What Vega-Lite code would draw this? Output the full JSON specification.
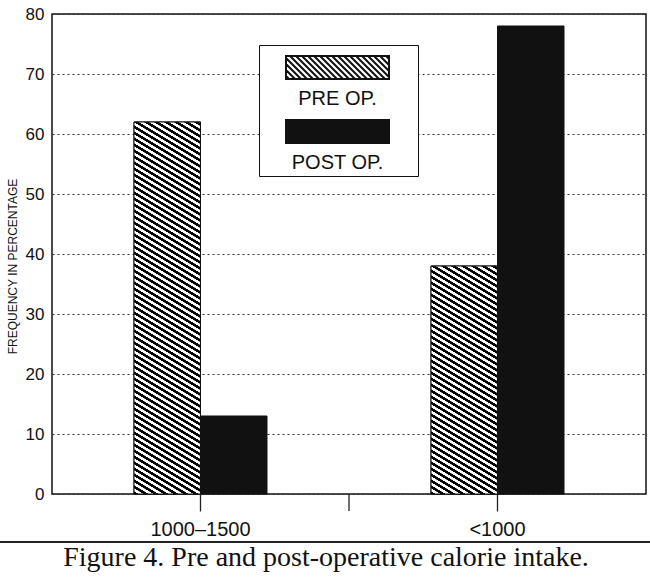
{
  "$schema": "https://vega.github.io/schema/vega-lite/v6.json",
  "autosize": "none",
  "width": 594,
  "height": 480,
  "padding": {"left": 52, "top": 14, "right": 4, "bottom": 86},
  "background": "white",
  "config": {
    "font": "Liberation Sans",
    "view": {"stroke": "#111", "strokeWidth": 1.5},
    "axisX": {
      "labelAngle": 0,
      "labelFontSize": 20,
      "labelColor": "#111",
      "labelPadding": 8,
      "tickSize": 17,
      "tickColor": "#222",
      "tickWidth": 1.3,
      "domain": false,
      "grid": false
    },
    "axisY": {
      "tickCount": 8,
      "titleFontSize": 12,
      "titleFontWeight": "normal",
      "titleColor": "#111",
      "titlePadding": 6,
      "titleY": 252,
      "labelFontSize": 17,
      "labelColor": "#111",
      "labelPadding": 8,
      "ticks": false,
      "domain": false,
      "grid": true,
      "gridDash": [2, 3],
      "gridColor": "#333",
      "gridWidth": 1.2
    }
  },
  "title": {
    "text": "Figure 4. Pre and post-operative calorie intake.",
    "orient": "bottom",
    "anchor": "middle",
    "baseline": "alphabetic",
    "font": "Liberation Serif",
    "fontSize": 28,
    "fontWeight": "normal",
    "color": "#111",
    "dx": -23,
    "offset": 23
  },
  "data": {
    "values": [
      {"cat": "1000–1500", "group": "PRE OP.", "value": 62},
      {"cat": "1000–1500", "group": "POST OP.", "value": 13},
      {"cat": "<1000", "group": "PRE OP.", "value": 38},
      {"cat": "<1000", "group": "POST OP.", "value": 78}
    ]
  },
  "layer": [
    {
      "mark": {"type": "bar", "stroke": "#111"},
      "encoding": {
        "x": {
          "field": "cat",
          "type": "nominal",
          "title": null,
          "scale": {"domain": ["1000–1500", "<1000"], "paddingInner": 0.1044, "paddingOuter": 0.0522}
        },
        "y": {
          "field": "value",
          "type": "quantitative",
          "title": "FREQUENCY IN PERCENTAGE",
          "scale": {"domain": [0, 80], "nice": false}
        },
        "xOffset": {
          "field": "group",
          "type": "nominal",
          "scale": {"domain": ["PRE OP.", "POST OP."], "paddingInner": 0, "paddingOuter": 1}
        },
        "fill": {
          "field": "group",
          "type": "nominal",
          "scale": {"domain": ["PRE OP.", "POST OP."], "range": ["white", "#111"]},
          "legend": {
            "title": null,
            "orient": "none",
            "legendX": 207,
            "legendY": 31,
            "direction": "vertical",
            "padding": 3,
            "strokeColor": "#111",
            "fillColor": "white",
            "rowPadding": 3,
            "symbolType": "M1.47,-0.63M-1.03,-0.86H1.03V-0.4H-1.03ZM0.97,-0.86L1.03,-0.8M0.85,-0.86L1.03,-0.68M0.73,-0.86L1.03,-0.56M0.61,-0.86L1.03,-0.44M0.49,-0.86L0.95,-0.4M0.37,-0.86L0.83,-0.4M0.25,-0.86L0.71,-0.4M0.13,-0.86L0.59,-0.4M0.01,-0.86L0.47,-0.4M-0.11,-0.86L0.35,-0.4M-0.23,-0.86L0.23,-0.4M-0.35,-0.86L0.11,-0.4M-0.47,-0.86L-0.01,-0.4M-0.59,-0.86L-0.13,-0.4M-0.71,-0.86L-0.25,-0.4M-0.83,-0.86L-0.37,-0.4M-0.95,-0.86L-0.49,-0.4M-1.03,-0.82L-0.61,-0.4M-1.03,-0.7L-0.73,-0.4M-1.03,-0.58L-0.85,-0.4M-1.03,-0.46L-0.97,-0.4",
            "symbolSize": 10000,
            "symbolStrokeWidth": 2,
            "symbolStrokeColor": "#111",
            "symbolOffset": 24.5,
            "labelOffset": -51,
            "labelAlign": "center",
            "labelBaseline": "middle",
            "labelFontSize": 20,
            "labelColor": "#111",
            "labelLimit": 0
          }
        }
      }
    },
    {
      "transform": [{"filter": "datum.group === 'PRE OP.'"}],
      "mark": {"type": "bar", "stroke": "#111"},
      "encoding": {
        "x": {"field": "cat", "type": "nominal", "title": null},
        "y": {"field": "value", "type": "quantitative", "title": "FREQUENCY IN PERCENTAGE"},
        "xOffset": {"field": "group", "type": "nominal"},
        "fill": {
          "condition": {
            "test": "datum.cat === '<1000'",
            "value": {
              "gradient": "linear", "x1": 0, "y1": 1, "x2": 0.31917, "y2": -0.82384,
              "stops": [
                {"offset":0,"color":"#000"},{"offset":0.006,"color":"#000"},{"offset":0.007,"color":"#fff"},{"offset":0.013,"color":"#fff"},
                {"offset":0.014,"color":"#000"},{"offset":0.02,"color":"#000"},{"offset":0.021,"color":"#fff"},{"offset":0.027,"color":"#fff"},
                {"offset":0.028,"color":"#000"},{"offset":0.034,"color":"#000"},{"offset":0.035,"color":"#fff"},{"offset":0.041,"color":"#fff"},
                {"offset":0.042,"color":"#000"},{"offset":0.048,"color":"#000"},{"offset":0.049,"color":"#fff"},{"offset":0.055,"color":"#fff"},
                {"offset":0.056,"color":"#000"},{"offset":0.062,"color":"#000"},{"offset":0.063,"color":"#fff"},{"offset":0.069,"color":"#fff"},
                {"offset":0.07,"color":"#000"},{"offset":0.076,"color":"#000"},{"offset":0.077,"color":"#fff"},{"offset":0.083,"color":"#fff"},
                {"offset":0.084,"color":"#000"},{"offset":0.09,"color":"#000"},{"offset":0.091,"color":"#fff"},{"offset":0.097,"color":"#fff"},
                {"offset":0.098,"color":"#000"},{"offset":0.104,"color":"#000"},{"offset":0.105,"color":"#fff"},{"offset":0.111,"color":"#fff"},
                {"offset":0.112,"color":"#000"},{"offset":0.118,"color":"#000"},{"offset":0.119,"color":"#fff"},{"offset":0.125,"color":"#fff"},
                {"offset":0.126,"color":"#000"},{"offset":0.132,"color":"#000"},{"offset":0.133,"color":"#fff"},{"offset":0.139,"color":"#fff"},
                {"offset":0.14,"color":"#000"},{"offset":0.146,"color":"#000"},{"offset":0.147,"color":"#fff"},{"offset":0.153,"color":"#fff"},
                {"offset":0.154,"color":"#000"},{"offset":0.16,"color":"#000"},{"offset":0.161,"color":"#fff"},{"offset":0.167,"color":"#fff"},
                {"offset":0.168,"color":"#000"},{"offset":0.174,"color":"#000"},{"offset":0.175,"color":"#fff"},{"offset":0.181,"color":"#fff"},
                {"offset":0.182,"color":"#000"},{"offset":0.188,"color":"#000"},{"offset":0.189,"color":"#fff"},{"offset":0.195,"color":"#fff"},
                {"offset":0.196,"color":"#000"},{"offset":0.202,"color":"#000"},{"offset":0.203,"color":"#fff"},{"offset":0.209,"color":"#fff"},
                {"offset":0.21,"color":"#000"},{"offset":0.216,"color":"#000"},{"offset":0.217,"color":"#fff"},{"offset":0.223,"color":"#fff"},
                {"offset":0.224,"color":"#000"},{"offset":0.23,"color":"#000"},{"offset":0.231,"color":"#fff"},{"offset":0.237,"color":"#fff"},
                {"offset":0.238,"color":"#000"},{"offset":0.244,"color":"#000"},{"offset":0.245,"color":"#fff"},{"offset":0.251,"color":"#fff"},
                {"offset":0.252,"color":"#000"},{"offset":0.258,"color":"#000"},{"offset":0.259,"color":"#fff"},{"offset":0.265,"color":"#fff"},
                {"offset":0.266,"color":"#000"},{"offset":0.272,"color":"#000"},{"offset":0.273,"color":"#fff"},{"offset":0.279,"color":"#fff"},
                {"offset":0.28,"color":"#000"},{"offset":0.286,"color":"#000"},{"offset":0.287,"color":"#fff"},{"offset":0.293,"color":"#fff"},
                {"offset":0.294,"color":"#000"},{"offset":0.3,"color":"#000"},{"offset":0.301,"color":"#fff"},{"offset":0.307,"color":"#fff"},
                {"offset":0.308,"color":"#000"},{"offset":0.314,"color":"#000"},{"offset":0.315,"color":"#fff"},{"offset":0.321,"color":"#fff"},
                {"offset":0.322,"color":"#000"},{"offset":0.328,"color":"#000"},{"offset":0.329,"color":"#fff"},{"offset":0.335,"color":"#fff"},
                {"offset":0.336,"color":"#000"},{"offset":0.342,"color":"#000"},{"offset":0.343,"color":"#fff"},{"offset":0.349,"color":"#fff"},
                {"offset":0.35,"color":"#000"},{"offset":0.356,"color":"#000"},{"offset":0.357,"color":"#fff"},{"offset":0.363,"color":"#fff"},
                {"offset":0.364,"color":"#000"},{"offset":0.37,"color":"#000"},{"offset":0.371,"color":"#fff"},{"offset":0.377,"color":"#fff"},
                {"offset":0.378,"color":"#000"},{"offset":0.384,"color":"#000"},{"offset":0.385,"color":"#fff"},{"offset":0.391,"color":"#fff"},
                {"offset":0.392,"color":"#000"},{"offset":0.398,"color":"#000"},{"offset":0.399,"color":"#fff"},{"offset":0.405,"color":"#fff"},
                {"offset":0.406,"color":"#000"},{"offset":0.412,"color":"#000"},{"offset":0.413,"color":"#fff"},{"offset":0.419,"color":"#fff"},
                {"offset":0.42,"color":"#000"},{"offset":0.426,"color":"#000"},{"offset":0.427,"color":"#fff"},{"offset":0.433,"color":"#fff"},
                {"offset":0.434,"color":"#000"},{"offset":0.44,"color":"#000"},{"offset":0.441,"color":"#fff"},{"offset":0.447,"color":"#fff"},
                {"offset":0.448,"color":"#000"},{"offset":0.454,"color":"#000"},{"offset":0.455,"color":"#fff"},{"offset":0.461,"color":"#fff"},
                {"offset":0.462,"color":"#000"},{"offset":0.468,"color":"#000"},{"offset":0.469,"color":"#fff"},{"offset":0.475,"color":"#fff"},
                {"offset":0.476,"color":"#000"},{"offset":0.482,"color":"#000"},{"offset":0.483,"color":"#fff"},{"offset":0.489,"color":"#fff"},
                {"offset":0.49,"color":"#000"},{"offset":0.496,"color":"#000"},{"offset":0.497,"color":"#fff"},{"offset":0.503,"color":"#fff"},
                {"offset":0.504,"color":"#000"},{"offset":0.51,"color":"#000"},{"offset":0.511,"color":"#fff"},{"offset":0.517,"color":"#fff"},
                {"offset":0.518,"color":"#000"},{"offset":0.524,"color":"#000"},{"offset":0.525,"color":"#fff"},{"offset":0.531,"color":"#fff"},
                {"offset":0.532,"color":"#000"},{"offset":0.538,"color":"#000"},{"offset":0.539,"color":"#fff"},{"offset":0.545,"color":"#fff"},
                {"offset":0.546,"color":"#000"},{"offset":0.552,"color":"#000"},{"offset":0.553,"color":"#fff"},{"offset":0.559,"color":"#fff"},
                {"offset":0.56,"color":"#000"},{"offset":0.566,"color":"#000"},{"offset":0.567,"color":"#fff"},{"offset":0.573,"color":"#fff"},
                {"offset":0.574,"color":"#000"},{"offset":0.58,"color":"#000"},{"offset":0.581,"color":"#fff"},{"offset":0.587,"color":"#fff"},
                {"offset":0.588,"color":"#000"},{"offset":0.594,"color":"#000"},{"offset":0.595,"color":"#fff"},{"offset":0.601,"color":"#fff"},
                {"offset":0.602,"color":"#000"},{"offset":0.608,"color":"#000"},{"offset":0.609,"color":"#fff"},{"offset":0.615,"color":"#fff"},
                {"offset":0.616,"color":"#000"},{"offset":0.622,"color":"#000"},{"offset":0.623,"color":"#fff"},{"offset":0.629,"color":"#fff"},
                {"offset":0.63,"color":"#000"}
              ]
            }
          },
          "value": {
            "gradient": "linear", "x1": 0, "y1": 1, "x2": 0.12217, "y2": -0.13899,
            "stops": [
              {"offset":0,"color":"#000"},{"offset":0.006,"color":"#000"},{"offset":0.007,"color":"#fff"},{"offset":0.013,"color":"#fff"},
              {"offset":0.014,"color":"#000"},{"offset":0.02,"color":"#000"},{"offset":0.021,"color":"#fff"},{"offset":0.027,"color":"#fff"},
              {"offset":0.028,"color":"#000"},{"offset":0.034,"color":"#000"},{"offset":0.035,"color":"#fff"},{"offset":0.041,"color":"#fff"},
              {"offset":0.042,"color":"#000"},{"offset":0.048,"color":"#000"},{"offset":0.049,"color":"#fff"},{"offset":0.055,"color":"#fff"},
              {"offset":0.056,"color":"#000"},{"offset":0.062,"color":"#000"},{"offset":0.063,"color":"#fff"},{"offset":0.069,"color":"#fff"},
              {"offset":0.07,"color":"#000"},{"offset":0.076,"color":"#000"},{"offset":0.077,"color":"#fff"},{"offset":0.083,"color":"#fff"},
              {"offset":0.084,"color":"#000"},{"offset":0.09,"color":"#000"},{"offset":0.091,"color":"#fff"},{"offset":0.097,"color":"#fff"},
              {"offset":0.098,"color":"#000"},{"offset":0.104,"color":"#000"},{"offset":0.105,"color":"#fff"},{"offset":0.111,"color":"#fff"},
              {"offset":0.112,"color":"#000"},{"offset":0.118,"color":"#000"},{"offset":0.119,"color":"#fff"},{"offset":0.125,"color":"#fff"},
              {"offset":0.126,"color":"#000"},{"offset":0.132,"color":"#000"},{"offset":0.133,"color":"#fff"},{"offset":0.139,"color":"#fff"},
              {"offset":0.14,"color":"#000"},{"offset":0.146,"color":"#000"},{"offset":0.147,"color":"#fff"},{"offset":0.153,"color":"#fff"},
              {"offset":0.154,"color":"#000"},{"offset":0.16,"color":"#000"},{"offset":0.161,"color":"#fff"},{"offset":0.167,"color":"#fff"},
              {"offset":0.168,"color":"#000"},{"offset":0.174,"color":"#000"},{"offset":0.175,"color":"#fff"},{"offset":0.181,"color":"#fff"},
              {"offset":0.182,"color":"#000"},{"offset":0.188,"color":"#000"},{"offset":0.189,"color":"#fff"},{"offset":0.195,"color":"#fff"},
              {"offset":0.196,"color":"#000"},{"offset":0.202,"color":"#000"},{"offset":0.203,"color":"#fff"},{"offset":0.209,"color":"#fff"},
              {"offset":0.21,"color":"#000"},{"offset":0.216,"color":"#000"},{"offset":0.217,"color":"#fff"},{"offset":0.223,"color":"#fff"},
              {"offset":0.224,"color":"#000"},{"offset":0.23,"color":"#000"},{"offset":0.231,"color":"#fff"},{"offset":0.237,"color":"#fff"},
              {"offset":0.238,"color":"#000"},{"offset":0.244,"color":"#000"},{"offset":0.245,"color":"#fff"},{"offset":0.251,"color":"#fff"},
              {"offset":0.252,"color":"#000"},{"offset":0.258,"color":"#000"},{"offset":0.259,"color":"#fff"},{"offset":0.265,"color":"#fff"},
              {"offset":0.266,"color":"#000"},{"offset":0.272,"color":"#000"},{"offset":0.273,"color":"#fff"},{"offset":0.279,"color":"#fff"},
              {"offset":0.28,"color":"#000"},{"offset":0.286,"color":"#000"},{"offset":0.287,"color":"#fff"},{"offset":0.293,"color":"#fff"},
              {"offset":0.294,"color":"#000"},{"offset":0.3,"color":"#000"},{"offset":0.301,"color":"#fff"},{"offset":0.307,"color":"#fff"},
              {"offset":0.308,"color":"#000"},{"offset":0.314,"color":"#000"},{"offset":0.315,"color":"#fff"},{"offset":0.321,"color":"#fff"},
              {"offset":0.322,"color":"#000"},{"offset":0.328,"color":"#000"},{"offset":0.329,"color":"#fff"},{"offset":0.335,"color":"#fff"},
              {"offset":0.336,"color":"#000"},{"offset":0.342,"color":"#000"},{"offset":0.343,"color":"#fff"},{"offset":0.349,"color":"#fff"},
              {"offset":0.35,"color":"#000"},{"offset":0.356,"color":"#000"},{"offset":0.357,"color":"#fff"},{"offset":0.363,"color":"#fff"},
              {"offset":0.364,"color":"#000"},{"offset":0.37,"color":"#000"},{"offset":0.371,"color":"#fff"},{"offset":0.377,"color":"#fff"},
              {"offset":0.378,"color":"#000"},{"offset":0.384,"color":"#000"},{"offset":0.385,"color":"#fff"},{"offset":0.391,"color":"#fff"},
              {"offset":0.392,"color":"#000"},{"offset":0.398,"color":"#000"},{"offset":0.399,"color":"#fff"},{"offset":0.405,"color":"#fff"},
              {"offset":0.406,"color":"#000"},{"offset":0.412,"color":"#000"},{"offset":0.413,"color":"#fff"},{"offset":0.419,"color":"#fff"},
              {"offset":0.42,"color":"#000"},{"offset":0.426,"color":"#000"},{"offset":0.427,"color":"#fff"},{"offset":0.433,"color":"#fff"},
              {"offset":0.434,"color":"#000"},{"offset":0.44,"color":"#000"},{"offset":0.441,"color":"#fff"},{"offset":0.447,"color":"#fff"},
              {"offset":0.448,"color":"#000"},{"offset":0.454,"color":"#000"},{"offset":0.455,"color":"#fff"},{"offset":0.461,"color":"#fff"},
              {"offset":0.462,"color":"#000"},{"offset":0.468,"color":"#000"},{"offset":0.469,"color":"#fff"},{"offset":0.475,"color":"#fff"},
              {"offset":0.476,"color":"#000"},{"offset":0.482,"color":"#000"},{"offset":0.483,"color":"#fff"},{"offset":0.489,"color":"#fff"},
              {"offset":0.49,"color":"#000"},{"offset":0.496,"color":"#000"},{"offset":0.497,"color":"#fff"},{"offset":0.503,"color":"#fff"},
              {"offset":0.504,"color":"#000"},{"offset":0.51,"color":"#000"},{"offset":0.511,"color":"#fff"},{"offset":0.517,"color":"#fff"},
              {"offset":0.518,"color":"#000"},{"offset":0.524,"color":"#000"},{"offset":0.525,"color":"#fff"},{"offset":0.531,"color":"#fff"},
              {"offset":0.532,"color":"#000"},{"offset":0.538,"color":"#000"},{"offset":0.539,"color":"#fff"},{"offset":0.545,"color":"#fff"},
              {"offset":0.546,"color":"#000"},{"offset":0.552,"color":"#000"},{"offset":0.553,"color":"#fff"},{"offset":0.559,"color":"#fff"},
              {"offset":0.56,"color":"#000"},{"offset":0.566,"color":"#000"},{"offset":0.567,"color":"#fff"},{"offset":0.573,"color":"#fff"},
              {"offset":0.574,"color":"#000"},{"offset":0.58,"color":"#000"},{"offset":0.581,"color":"#fff"},{"offset":0.587,"color":"#fff"},
              {"offset":0.588,"color":"#000"},{"offset":0.594,"color":"#000"},{"offset":0.595,"color":"#fff"},{"offset":0.601,"color":"#fff"},
              {"offset":0.602,"color":"#000"},{"offset":0.608,"color":"#000"},{"offset":0.609,"color":"#fff"},{"offset":0.615,"color":"#fff"},
              {"offset":0.616,"color":"#000"},{"offset":0.622,"color":"#000"},{"offset":0.623,"color":"#fff"},{"offset":0.629,"color":"#fff"},
              {"offset":0.63,"color":"#000"},{"offset":0.636,"color":"#000"},{"offset":0.637,"color":"#fff"},{"offset":0.643,"color":"#fff"},
              {"offset":0.644,"color":"#000"},{"offset":0.65,"color":"#000"},{"offset":0.651,"color":"#fff"},{"offset":0.657,"color":"#fff"},
              {"offset":0.658,"color":"#000"},{"offset":0.664,"color":"#000"},{"offset":0.665,"color":"#fff"},{"offset":0.671,"color":"#fff"},
              {"offset":0.672,"color":"#000"},{"offset":0.678,"color":"#000"},{"offset":0.679,"color":"#fff"},{"offset":0.685,"color":"#fff"},
              {"offset":0.686,"color":"#000"},{"offset":0.692,"color":"#000"},{"offset":0.693,"color":"#fff"},{"offset":0.699,"color":"#fff"},
              {"offset":0.7,"color":"#000"},{"offset":0.706,"color":"#000"},{"offset":0.707,"color":"#fff"},{"offset":0.713,"color":"#fff"},
              {"offset":0.714,"color":"#000"},{"offset":0.72,"color":"#000"},{"offset":0.721,"color":"#fff"},{"offset":0.727,"color":"#fff"},
              {"offset":0.728,"color":"#000"},{"offset":0.734,"color":"#000"},{"offset":0.735,"color":"#fff"},{"offset":0.741,"color":"#fff"},
              {"offset":0.742,"color":"#000"},{"offset":0.748,"color":"#000"},{"offset":0.749,"color":"#fff"},{"offset":0.755,"color":"#fff"},
              {"offset":0.756,"color":"#000"},{"offset":0.762,"color":"#000"},{"offset":0.763,"color":"#fff"},{"offset":0.769,"color":"#fff"},
              {"offset":0.77,"color":"#000"},{"offset":0.776,"color":"#000"},{"offset":0.777,"color":"#fff"},{"offset":0.783,"color":"#fff"},
              {"offset":0.784,"color":"#000"},{"offset":0.79,"color":"#000"},{"offset":0.791,"color":"#fff"},{"offset":0.797,"color":"#fff"},
              {"offset":0.798,"color":"#000"},{"offset":0.804,"color":"#000"},{"offset":0.805,"color":"#fff"},{"offset":0.811,"color":"#fff"},
              {"offset":0.812,"color":"#000"},{"offset":0.818,"color":"#000"},{"offset":0.819,"color":"#fff"},{"offset":0.825,"color":"#fff"},
              {"offset":0.826,"color":"#000"},{"offset":0.832,"color":"#000"},{"offset":0.833,"color":"#fff"},{"offset":0.839,"color":"#fff"},
              {"offset":0.84,"color":"#000"},{"offset":0.846,"color":"#000"},{"offset":0.847,"color":"#fff"},{"offset":0.853,"color":"#fff"},
              {"offset":0.854,"color":"#000"},{"offset":0.86,"color":"#000"},{"offset":0.861,"color":"#fff"},{"offset":0.867,"color":"#fff"},
              {"offset":0.868,"color":"#000"},{"offset":0.874,"color":"#000"},{"offset":0.875,"color":"#fff"},{"offset":0.881,"color":"#fff"},
              {"offset":0.882,"color":"#000"},{"offset":0.888,"color":"#000"},{"offset":0.889,"color":"#fff"},{"offset":0.895,"color":"#fff"},
              {"offset":0.896,"color":"#000"},{"offset":0.902,"color":"#000"},{"offset":0.903,"color":"#fff"},{"offset":0.909,"color":"#fff"},
              {"offset":0.91,"color":"#000"},{"offset":0.916,"color":"#000"},{"offset":0.917,"color":"#fff"},{"offset":0.923,"color":"#fff"},
              {"offset":0.924,"color":"#000"},{"offset":0.93,"color":"#000"},{"offset":0.931,"color":"#fff"},{"offset":0.937,"color":"#fff"},
              {"offset":0.938,"color":"#000"},{"offset":0.944,"color":"#000"},{"offset":0.945,"color":"#fff"},{"offset":0.951,"color":"#fff"},
              {"offset":0.952,"color":"#000"},{"offset":0.958,"color":"#000"},{"offset":0.959,"color":"#fff"},{"offset":0.965,"color":"#fff"}
            ]
          }
        }
      }
    },
    {
      "data": {"values": [{"cat": "1000–1500"}]},
      "mark": {"type": "rule", "color": "#222", "strokeWidth": 1.3, "clip": false},
      "encoding": {
        "x": {"field": "cat", "type": "nominal", "bandPosition": 1.0583, "title": null},
        "y": {"datum": 0, "type": "quantitative", "title": "FREQUENCY IN PERCENTAGE"},
        "y2": {"datum": -2.83}
      }
    },
    {
      "data": {"values": [{"cat": "1000–1500"}]},
      "mark": {"type": "rule", "color": "#222", "strokeWidth": 2, "clip": false},
      "encoding": {
        "x": {"value": -52},
        "x2": {"value": 598},
        "y": {"datum": -8, "type": "quantitative", "title": "FREQUENCY IN PERCENTAGE"}
      }
    }
  ]
}
